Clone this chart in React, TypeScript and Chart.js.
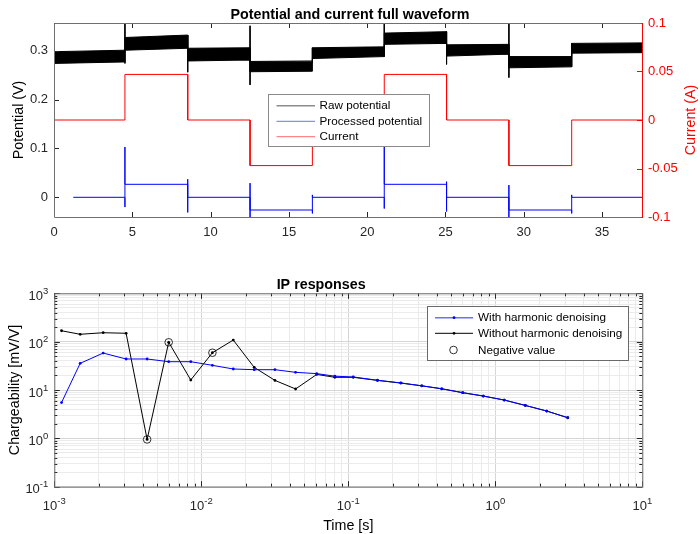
import React, { useEffect, useRef } from "react";
import { Chart, registerables } from "chart.js";
Chart.register(...registerables);

const FONT = "'Liberation Sans', Arial, Helvetica, sans-serif";
const TEXT = "#262626";
const BOX = "#707070";
const RED = "#ff0000";
const BLUE = "#0000ff";

// ---------- Top chart: potential and current waveform ----------
const segmentStarts = [0, 4.53, 8.54, 12.52, 16.5, 21.09, 25.07, 29.05, 33.06];
const segmentEnds = [4.53, 8.54, 12.52, 16.5, 21.09, 25.07, 29.05, 33.06, 37.55];
const rawUpperStart = [0.298, 0.327, 0.305, 0.278, 0.306, 0.336, 0.312, 0.288, 0.315];
const rawUpperEnd = [0.301, 0.332, 0.306, 0.279, 0.308, 0.339, 0.313, 0.288, 0.316];
const rawLowerStart = [0.274, 0.301, 0.279, 0.257, 0.284, 0.313, 0.289, 0.265, 0.295];
const rawLowerEnd = [0.277, 0.305, 0.281, 0.258, 0.288, 0.315, 0.293, 0.267, 0.296];
const rawSpikeHigh = [0.325, 0.355, 0.332, 0.351, 0.306, 0.37, 0.339, 0.37, 0.315];
const rawSpikeLow = [0.262, 0.274, 0.256, 0.23, 0.275, 0.288, 0.272, 0.245, 0.267];
const processedStartTime = 1.23;
const processedLevel = [0, 0.0266, 0, -0.026, 0, 0.0266, 0, -0.026, 0];
// spikes at segment boundaries 1..8
const processedSpikeHigh = [0.103, 0.037, 0.029, 0.005, 0.103, 0.032, 0.025, 0.005];
const processedSpikeLow = [-0.02, -0.031, -0.045, -0.033, -0.023, -0.029, -0.045, -0.033];
const currentStartValue = 0.047;
const currentLevel = [0, 0.047, 0, -0.047, 0, 0.047, 0, -0.047, 0];
const topLegendLabels = ["Raw potential", "Processed potential", "Current"];

// ---------- Bottom chart: IP responses ----------
const gateTimes = [
  0.00112, 0.0015, 0.00215, 0.00308, 0.00428, 0.006, 0.00848, 0.0119, 0.0165,
  0.0229, 0.0317, 0.0438, 0.061, 0.081, 0.108, 0.158, 0.228, 0.316, 0.432,
  0.6, 0.828, 1.15, 1.6, 2.24, 3.11,
];
const withDenoising = [
  5.5, 35.6, 58, 43.8, 43.8, 38.5, 38.5, 32.4, 27.2, 26.3, 26.3, 23.2, 21.8,
  19.3, 18.6, 15.9, 14.0, 12.2, 10.6, 8.8, 7.5, 6.2, 4.8, 3.67, 2.67,
];
const withoutDenoising = [
  168, 142, 153, 149, 0.95, 97, 16.1, 59, 108, 29.4, 15.8, 10.5, 21, 18.3,
  18.3, 15.8, 13.9, 12.2, 10.6, 8.8, 7.5, 6.2, 4.8, 3.67, 2.67,
];
const negativeTimes = [0.00428, 0.006, 0.0119];
const negativeValues = [0.95, 97, 59];
const xDecades = [-3, -2, -1, 0, 1];
const yDecades = [-1, 0, 1, 2, 3];
const bottomLegendLabels = ["With harmonic denoising", "Without harmonic denoising", "Negative value"];

// ---------- helpers ----------
function buildRawEnvelope(starts: number[], ends: number[], a: number[], b: number[]) {
  const pts: { x: number; y: number }[] = [];
  for (let i = 0; i < starts.length; i++) {
    pts.push({ x: starts[i], y: a[i] }, { x: ends[i], y: b[i] });
  }
  return pts;
}
function buildRawSpikes() {
  const pts: { x: number; y: number | null }[] = [];
  for (let i = 0; i < segmentStarts.length; i++) {
    pts.push({ x: segmentStarts[i], y: rawSpikeHigh[i] }, { x: segmentStarts[i], y: rawSpikeLow[i] }, { x: segmentStarts[i], y: null });
  }
  return pts;
}
function buildProcessed() {
  const pts: { x: number; y: number }[] = [{ x: processedStartTime, y: processedLevel[0] }];
  for (let i = 1; i < segmentStarts.length; i++) {
    const x = segmentStarts[i];
    pts.push({ x, y: processedLevel[i - 1] }, { x, y: processedSpikeLow[i - 1] }, { x, y: processedSpikeHigh[i - 1] }, { x, y: processedLevel[i] });
  }
  pts.push({ x: segmentEnds[segmentEnds.length - 1], y: processedLevel[processedLevel.length - 1] });
  return pts;
}
function buildCurrent() {
  const pts: { x: number; y: number }[] = [{ x: segmentStarts[0], y: currentStartValue }, { x: segmentStarts[0], y: currentLevel[0] }];
  for (let i = 1; i < segmentStarts.length; i++) {
    pts.push({ x: segmentStarts[i], y: currentLevel[i - 1] }, { x: segmentStarts[i], y: currentLevel[i] });
  }
  pts.push({ x: segmentEnds[segmentEnds.length - 1], y: currentLevel[currentLevel.length - 1] });
  return pts;
}
function logTickValues(decades: number[]) {
  const out: number[] = [];
  for (let i = 0; i < decades.length; i++) {
    const base = Math.pow(10, decades[i]);
    if (i === decades.length - 1) {
      out.push(base);
      break;
    }
    for (let m = 1; m <= 9; m++) out.push(m * base);
  }
  return out;
}
function isMajor(v: number) {
  const l = Math.log10(v);
  return Math.abs(l - Math.round(l)) < 1e-6;
}
const fmt = (v: number) => String(Math.round(v * 1000) / 1000);

// ---------- plugins ----------
const topDecor = {
  id: "topDecor",
  afterDatasetsDraw(chart: any) {
    const { ctx, chartArea: a, scales } = chart;
    ctx.save();
    // inward ticks
    ctx.lineWidth = 1;
    ctx.strokeStyle = TEXT;
    ctx.beginPath();
    for (const t of scales.x.ticks) {
      const px = Math.round(scales.x.getPixelForValue(t.value)) + 0.5;
      ctx.moveTo(px, a.bottom);
      ctx.lineTo(px, a.bottom - 5);
      ctx.moveTo(px, a.top);
      ctx.lineTo(px, a.top + 5);
    }
    for (const t of scales.y.ticks) {
      const py = Math.round(scales.y.getPixelForValue(t.value)) + 0.5;
      ctx.moveTo(a.left, py);
      ctx.lineTo(a.left + 5, py);
    }
    ctx.stroke();
    ctx.strokeStyle = RED;
    ctx.beginPath();
    for (const t of scales.y2.ticks) {
      const py = Math.round(scales.y2.getPixelForValue(t.value)) + 0.5;
      ctx.moveTo(a.right, py);
      ctx.lineTo(a.right - 5, py);
    }
    ctx.stroke();
    // box
    ctx.strokeStyle = BOX;
    ctx.beginPath();
    ctx.moveTo(a.left + 0.5, a.bottom + 0.5);
    ctx.lineTo(a.left + 0.5, a.top + 0.5);
    ctx.lineTo(a.right - 0.5, a.top + 0.5);
    ctx.moveTo(a.left + 0.5, a.bottom + 0.5);
    ctx.lineTo(a.right - 0.5, a.bottom + 0.5);
    ctx.stroke();
    ctx.strokeStyle = RED;
    ctx.beginPath();
    ctx.moveTo(a.right + 0.5, a.top);
    ctx.lineTo(a.right + 0.5, a.bottom + 1);
    ctx.stroke();
    // right axis title (reads bottom to top)
    ctx.fillStyle = RED;
    ctx.font = `14.3px ${FONT}`;
    ctx.textAlign = "center";
    ctx.textBaseline = "middle";
    ctx.translate(691.5, (a.top + a.bottom) / 2);
    ctx.rotate(-Math.PI / 2);
    ctx.fillText("Current (A)", 0, 0);
    ctx.setTransform(1, 0, 0, 1, 0, 0);
    // legend
    const lx = 268, ly = 94, lw = 161, lh = 52;
    ctx.fillStyle = "#ffffff";
    ctx.fillRect(lx, ly, lw, lh);
    ctx.strokeStyle = "#8a8a8a";
    ctx.strokeRect(lx + 0.5, ly + 0.5, lw, lh);
    const colors = ["#8c8c8c", "#7070ff", "#ff6a6a"];
    const ys = [105.7, 121.3, 136.7];
    ctx.font = `11.7px ${FONT}`;
    ctx.textAlign = "left";
    ctx.textBaseline = "middle";
    for (let i = 0; i < 3; i++) {
      ctx.strokeStyle = colors[i];
      ctx.lineWidth = i === 0 ? 1.6 : 1;
      ctx.beginPath();
      ctx.moveTo(276.5, ys[i]);
      ctx.lineTo(315, ys[i]);
      ctx.stroke();
      ctx.fillStyle = "#000000";
      ctx.fillText(topLegendLabels[i], 319.5, ys[i] + 0.5);
    }
    ctx.restore();
  },
};

const bottomDecor = {
  id: "bottomDecor",
  afterDatasetsDraw(chart: any) {
    const { ctx, chartArea: a, scales } = chart;
    ctx.save();
    ctx.lineWidth = 1;
    ctx.strokeStyle = TEXT;
    ctx.beginPath();
    for (const t of scales.x.ticks) {
      const px = Math.round(scales.x.getPixelForValue(t.value)) + 0.5;
      const len = isMajor(t.value) ? 5.5 : 3;
      ctx.moveTo(px, a.bottom);
      ctx.lineTo(px, a.bottom - len);
      ctx.moveTo(px, a.top);
      ctx.lineTo(px, a.top + len);
    }
    for (const t of scales.y.ticks) {
      const py = Math.round(scales.y.getPixelForValue(t.value)) + 0.5;
      const len = isMajor(t.value) ? 5.5 : 3;
      ctx.moveTo(a.left, py);
      ctx.lineTo(a.left + len, py);
      ctx.moveTo(a.right, py);
      ctx.lineTo(a.right - len, py);
    }
    ctx.stroke();
    ctx.strokeStyle = BOX;
    ctx.strokeRect(a.left + 0.5, a.top + 0.5, a.right - a.left, a.bottom - a.top);
    // tick labels 10^n
    ctx.fillStyle = TEXT;
    ctx.textBaseline = "alphabetic";
    ctx.textAlign = "left";
    const baseFont = `13px ${FONT}`;
    const expFont = `9.5px ${FONT}`;
    for (const d of xDecades) {
      const px = scales.x.getPixelForValue(Math.pow(10, d));
      const e = String(d);
      ctx.font = baseFont;
      const w1 = ctx.measureText("10").width;
      ctx.font = expFont;
      const w2 = ctx.measureText(e).width;
      const x0 = px - (w1 + w2) / 2;
      const by = a.bottom + 23;
      ctx.font = baseFont;
      ctx.fillText("10", x0, by);
      ctx.font = expFont;
      ctx.fillText(e, x0 + w1, by - 6);
    }
    for (const d of yDecades) {
      const py = scales.y.getPixelForValue(Math.pow(10, d));
      const e = String(d);
      ctx.font = baseFont;
      const w1 = ctx.measureText("10").width;
      ctx.font = expFont;
      const w2 = ctx.measureText(e).width;
      const right = a.left - 6;
      const by = py + 6.5;
      ctx.font = baseFont;
      ctx.fillText("10", right - w2 - w1, by);
      ctx.font = expFont;
      ctx.fillText(e, right - w2, by - 6);
    }
    // legend
    const lx = 427, ly = 44, lw = 201, lh = 54;
    ctx.fillStyle = "#ffffff";
    ctx.fillRect(lx, ly, lw, lh);
    ctx.strokeStyle = "#6a6a6a";
    ctx.strokeRect(lx + 0.5, ly + 0.5, lw, lh);
    const ys = [55.7, 71.3, 88];
    ctx.font = `11.7px ${FONT}`;
    ctx.textBaseline = "middle";
    const lineColors = ["#6f6fff", "#000000"];
    for (let i = 0; i < 2; i++) {
      ctx.strokeStyle = lineColors[i];
      ctx.lineWidth = i === 0 ? 1.6 : 1;
      ctx.beginPath();
      ctx.moveTo(435, ys[i]);
      ctx.lineTo(473, ys[i]);
      ctx.stroke();
      ctx.fillStyle = i === 0 ? BLUE : "#000000";
      ctx.beginPath();
      ctx.arc(454, ys[i], 1.4, 0, Math.PI * 2);
      ctx.fill();
    }
    ctx.strokeStyle = "#000000";
    ctx.lineWidth = 0.8;
    ctx.beginPath();
    ctx.arc(453.5, ys[2], 3.8, 0, Math.PI * 2);
    ctx.stroke();
    ctx.fillStyle = "#000000";
    for (let i = 0; i < 3; i++) ctx.fillText(bottomLegendLabels[i], 478, ys[i] + 0.5);
    ctx.restore();
  },
};

export default function App() {
  const topRef = useRef<HTMLCanvasElement>(null);
  const botRef = useRef<HTMLCanvasElement>(null);

  useEffect(() => {
    const tickFont = { family: FONT, size: 13 };
    const top = new Chart(topRef.current as HTMLCanvasElement, {
      type: "line",
      data: {
        datasets: [
          {
            label: "Raw lower",
            data: buildRawEnvelope(segmentStarts, segmentEnds, rawLowerStart, rawLowerEnd),
            borderColor: "#000000",
            borderWidth: 1,
            pointRadius: 0,
            fill: false,
            yAxisID: "y",
          },
          {
            label: "Raw potential",
            data: buildRawEnvelope(segmentStarts, segmentEnds, rawUpperStart, rawUpperEnd),
            borderColor: "#000000",
            backgroundColor: "#000000",
            borderWidth: 1,
            pointRadius: 0,
            fill: "-1",
            yAxisID: "y",
          },
          {
            label: "Raw spikes",
            data: buildRawSpikes(),
            borderColor: "#000000",
            borderWidth: 1,
            pointRadius: 0,
            spanGaps: false,
            yAxisID: "y",
          },
          {
            label: "Processed potential",
            data: buildProcessed(),
            borderColor: BLUE,
            borderWidth: 1,
            pointRadius: 0,
            yAxisID: "y",
          },
          {
            label: "Current",
            data: buildCurrent(),
            borderColor: RED,
            borderWidth: 1,
            pointRadius: 0,
            yAxisID: "y2",
          },
        ],
      } as any,
      options: {
        animation: false,
        responsive: false,
        layout: { padding: { top: 0, left: 0, right: 0, bottom: 0 } },
        plugins: {
          legend: { display: false },
          tooltip: { enabled: false },
          title: {
            display: true,
            text: "Potential and current full waveform",
            color: "#000000",
            font: { family: FONT, size: 14.3, weight: "bold", lineHeight: 1 },
            padding: { top: 8, bottom: 0.7 },
          },
        },
        scales: {
          x: {
            type: "linear",
            min: 0,
            max: 37.55,
            grid: { display: false, drawTicks: false },
            border: { display: false },
            ticks: { stepSize: 5, includeBounds: false, font: tickFont, color: TEXT, padding: 8, maxRotation: 0, callback: (v: any) => fmt(v) },
            afterFit: (s: any) => { s.height = 45; },
          },
          y: {
            position: "left",
            min: -0.0403,
            max: 0.3567,
            grid: { display: false, drawTicks: false },
            border: { display: false },
            ticks: { stepSize: 0.1, includeBounds: false, font: tickFont, color: TEXT, padding: 6, callback: (v: any) => fmt(v) },
            title: { display: true, text: "Potential (V)", color: "#000000", font: { family: FONT, size: 14.3, lineHeight: 1 }, padding: { top: 11.8, bottom: 0 } },
            afterFit: (s: any) => { s.width = 54; },
          },
          y2: {
            position: "right",
            min: -0.1,
            max: 0.1,
            grid: { display: false, drawTicks: false },
            border: { display: false },
            ticks: { stepSize: 0.05, includeBounds: false, font: tickFont, color: RED, padding: 6, callback: (v: any) => fmt(v) },
            afterFit: (s: any) => { s.width = 58; },
          },
        },
      } as any,
      plugins: [topDecor],
    });

    const bottom = new Chart(botRef.current as HTMLCanvasElement, {
      type: "line",
      data: {
        datasets: [
          {
            label: bottomLegendLabels[0],
            data: gateTimes.map((t, i) => ({ x: t, y: withDenoising[i] })),
            borderColor: BLUE,
            backgroundColor: BLUE,
            borderWidth: 1,
            pointRadius: 1.4,
            pointBorderWidth: 0,
          },
          {
            label: bottomLegendLabels[1],
            data: gateTimes.map((t, i) => ({ x: t, y: withoutDenoising[i] })),
            borderColor: "#000000",
            backgroundColor: "#000000",
            borderWidth: 1,
            pointRadius: 1.4,
            pointBorderWidth: 0,
          },
          {
            label: bottomLegendLabels[2],
            data: negativeTimes.map((t, i) => ({ x: t, y: negativeValues[i] })),
            showLine: false,
            borderColor: "#000000",
            backgroundColor: "rgba(0,0,0,0)",
            pointRadius: 3.8,
            pointBorderWidth: 0.8,
            pointStyle: "circle",
          },
        ],
      } as any,
      options: {
        animation: false,
        responsive: false,
        layout: { padding: { top: 0, left: 0, right: 57.7, bottom: 0 } },
        plugins: {
          legend: { display: false },
          tooltip: { enabled: false },
          title: {
            display: true,
            text: "IP responses",
            color: "#000000",
            font: { family: FONT, size: 14.3, weight: "bold", lineHeight: 1 },
            padding: { top: 15.85, bottom: 1.15 },
          },
        },
        scales: {
          x: {
            type: "logarithmic",
            min: 1e-3,
            max: 10,
            afterBuildTicks: (s: any) => { s.ticks = logTickValues(xDecades).map((v) => ({ value: v })); },
            grid: { drawTicks: false, color: (c: any) => (c.tick && isMajor(c.tick.value) ? "#d6d6d6" : "#ebebeb") },
            border: { display: false },
            ticks: { display: false, autoSkip: false },
            title: { display: true, text: "Time [s]", color: "#000000", font: { family: FONT, size: 14.3, lineHeight: 1 }, padding: { top: 0, bottom: 0.85 } },
            afterFit: (s: any) => { s.height = 47.3; },
          },
          y: {
            type: "logarithmic",
            min: 0.1,
            max: 1000,
            afterBuildTicks: (s: any) => { s.ticks = logTickValues(yDecades).map((v) => ({ value: v })); },
            grid: { drawTicks: false, color: (c: any) => (c.tick && isMajor(c.tick.value) ? "#d6d6d6" : "#ebebeb") },
            border: { display: false },
            ticks: { display: false, autoSkip: false },
            title: { display: true, text: "Chargeability [mV/V]", color: "#000000", font: { family: FONT, size: 14.3, lineHeight: 1 }, padding: { top: 8, bottom: 0 } },
            afterFit: (s: any) => { s.width = 54.3; },
          },
        },
      } as any,
      plugins: [bottomDecor],
    });

    return () => {
      top.destroy();
      bottom.destroy();
    };
  }, []);

  return (
    <div style={{ position: "absolute", left: 0, top: 0, width: 700, height: 534, background: "#ffffff" }}>
      <canvas ref={topRef} width={700} height={262} style={{ position: "absolute", left: 0, top: 0, width: 700, height: 262 }} />
      <canvas ref={botRef} width={700} height={272} style={{ position: "absolute", left: 0, top: 262, width: 700, height: 272 }} />
    </div>
  );
}
